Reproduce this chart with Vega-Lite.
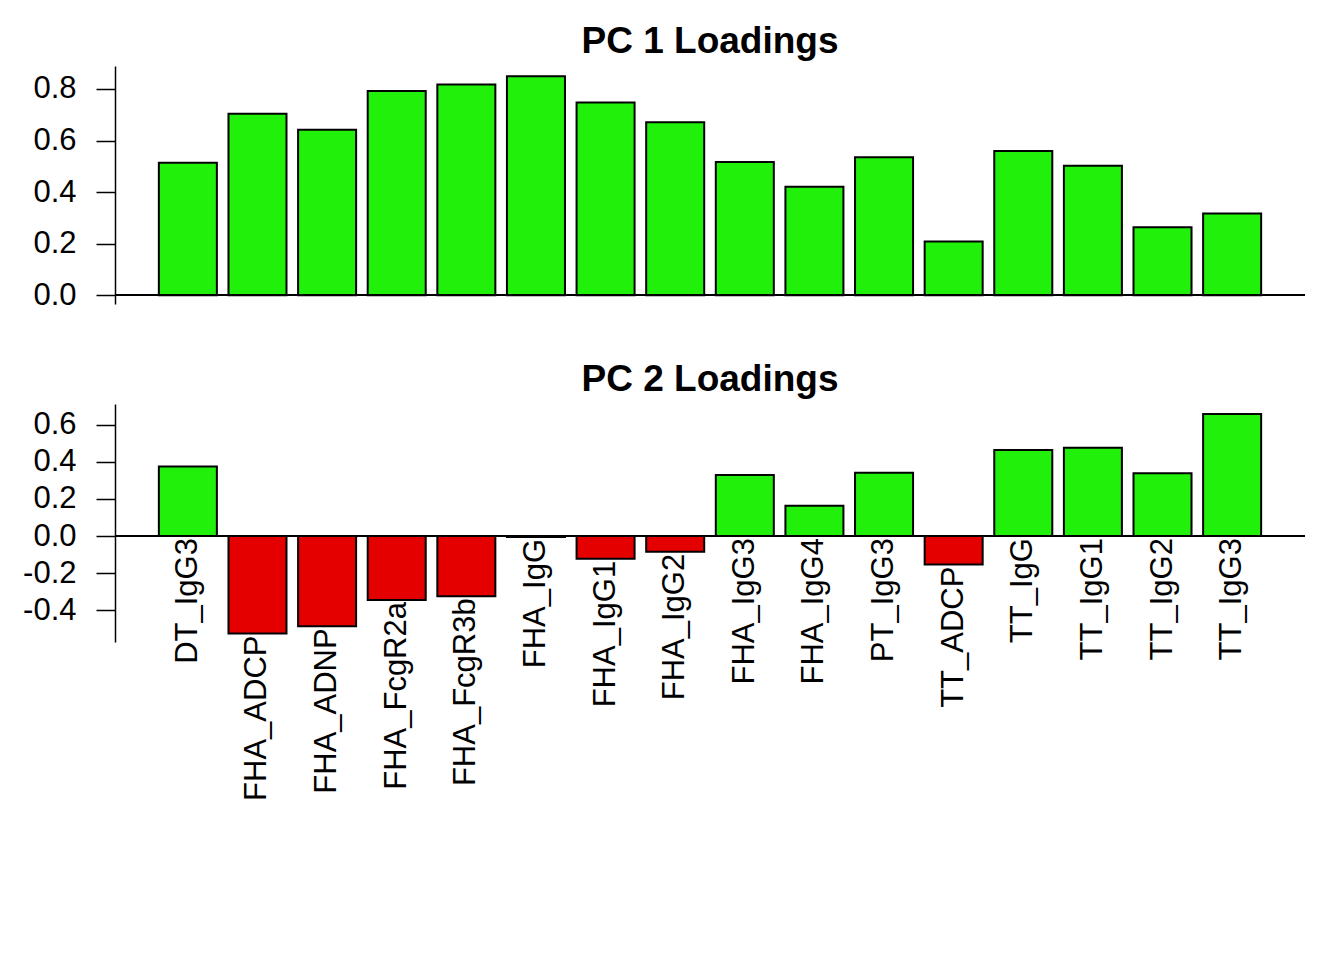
{
  "$schema": "https://vega.github.io/schema/vega-lite/v6.json",
  "padding": {"left": 22, "top": 23, "right": 5, "bottom": 5},
  "background": "white",
  "datasets": {
    "loadings": [
      {"pc": "PC1", "variable": "DT_IgG3", "loading": 0.514},
      {"pc": "PC1", "variable": "FHA_ADCP", "loading": 0.704},
      {"pc": "PC1", "variable": "FHA_ADNP", "loading": 0.642},
      {"pc": "PC1", "variable": "FHA_FcgR2a", "loading": 0.792},
      {"pc": "PC1", "variable": "FHA_FcgR3b", "loading": 0.817},
      {"pc": "PC1", "variable": "FHA_IgG", "loading": 0.849},
      {"pc": "PC1", "variable": "FHA_IgG1", "loading": 0.748},
      {"pc": "PC1", "variable": "FHA_IgG2", "loading": 0.671},
      {"pc": "PC1", "variable": "FHA_IgG3", "loading": 0.517},
      {"pc": "PC1", "variable": "FHA_IgG4", "loading": 0.421},
      {"pc": "PC1", "variable": "PT_IgG3", "loading": 0.535},
      {"pc": "PC1", "variable": "TT_ADCP", "loading": 0.208},
      {"pc": "PC1", "variable": "TT_IgG", "loading": 0.559},
      {"pc": "PC1", "variable": "TT_IgG1", "loading": 0.502},
      {"pc": "PC1", "variable": "TT_IgG2", "loading": 0.264},
      {"pc": "PC1", "variable": "TT_IgG3", "loading": 0.317},
      {"pc": "PC2", "variable": "DT_IgG3", "loading": 0.375},
      {"pc": "PC2", "variable": "FHA_ADCP", "loading": -0.526},
      {"pc": "PC2", "variable": "FHA_ADNP", "loading": -0.487},
      {"pc": "PC2", "variable": "FHA_FcgR2a", "loading": -0.345},
      {"pc": "PC2", "variable": "FHA_FcgR3b", "loading": -0.325},
      {"pc": "PC2", "variable": "FHA_IgG", "loading": -0.005},
      {"pc": "PC2", "variable": "FHA_IgG1", "loading": -0.123},
      {"pc": "PC2", "variable": "FHA_IgG2", "loading": -0.085},
      {"pc": "PC2", "variable": "FHA_IgG3", "loading": 0.330},
      {"pc": "PC2", "variable": "FHA_IgG4", "loading": 0.163},
      {"pc": "PC2", "variable": "PT_IgG3", "loading": 0.342},
      {"pc": "PC2", "variable": "TT_ADCP", "loading": -0.154},
      {"pc": "PC2", "variable": "TT_IgG", "loading": 0.464},
      {"pc": "PC2", "variable": "TT_IgG1", "loading": 0.476},
      {"pc": "PC2", "variable": "TT_IgG2", "loading": 0.339},
      {"pc": "PC2", "variable": "TT_IgG3", "loading": 0.659}
    ]
  },
  "data": {"name": "loadings"},
  "bounds": "flush",
  "spacing": 100,
  "vconcat": [
    {
      "width": 1190,
      "height": 238,
      "title": "PC 1 Loadings",
      "transform": [{"filter": "datum.pc === 'PC1'"}],
      "encoding": {
        "x": {
          "field": "variable",
          "type": "nominal",
          "sort": null,
          "axis": null,
          "scale": {"paddingInner": 0.1667, "paddingOuter": 0.63}
        },
        "y": {
          "field": "loading",
          "type": "quantitative",
          "scale": {"domain": [-0.0342, 0.8892], "nice": false, "zero": false},
          "axis": {"values": [0, 0.2, 0.4, 0.6, 0.8], "format": ".1f", "title": null}
        }
      },
      "layer": [
        {
          "mark": {"type": "bar", "stroke": "black", "strokeWidth": 2},
          "encoding": {
            "color": {
              "condition": {"test": "datum.loading >= 0", "value": "#21F00B"},
              "value": "#E50000"
            }
          }
        },
        {
          "mark": {"type": "rule", "color": "black", "strokeWidth": 1},
          "encoding": {"y": {"datum": 0}, "x": null}
        }
      ]
    },
    {
      "width": 1190,
      "height": 238,
      "title": "PC 2 Loadings",
      "transform": [{"filter": "datum.pc === 'PC2'"}],
      "encoding": {
        "x": {
          "field": "variable",
          "type": "nominal",
          "sort": null,
          "axis": null,
          "scale": {"paddingInner": 0.1667, "paddingOuter": 0.63}
        },
        "y": {
          "field": "loading",
          "type": "quantitative",
          "scale": {"domain": [-0.5716, 0.7126], "nice": false, "zero": false},
          "axis": {
            "values": [-0.4, -0.2, 0, 0.2, 0.4, 0.6],
            "labelExpr": "datum.value < 0 ? '-' + format(-datum.value, '.1f') : format(datum.value, '.1f')",
            "title": null
          }
        }
      },
      "layer": [
        {
          "mark": {"type": "bar", "stroke": "black", "strokeWidth": 2},
          "encoding": {
            "color": {
              "condition": {"test": "datum.loading >= 0", "value": "#21F00B"},
              "value": "#E50000"
            }
          }
        },
        {
          "mark": {"type": "rule", "color": "black", "strokeWidth": 1},
          "encoding": {"y": {"datum": 0}, "x": null}
        },
        {
          "transform": [{"filter": "datum.loading >= 0"}],
          "mark": {"type": "text", "angle": 270, "align": "right", "baseline": "middle", "fontSize": 31, "dx": -2, "color": "black"},
          "encoding": {"y": {"datum": 0}, "text": {"field": "variable"}}
        },
        {
          "transform": [{"filter": "datum.loading < 0"}],
          "mark": {"type": "text", "angle": 270, "align": "right", "baseline": "middle", "fontSize": 31, "dx": -2, "color": "black"},
          "encoding": {"text": {"field": "variable"}}
        }
      ]
    }
  ],
  "config": {
    "font": "Liberation Sans",
    "view": {"stroke": null},
    "axis": {
      "grid": false,
      "domainColor": "black",
      "domainWidth": 1.5,
      "tickColor": "black",
      "tickWidth": 1.5,
      "tickSize": 19,
      "labelPadding": 20,
      "labelColor": "black",
      "labelFont": "Liberation Sans",
      "labelFontSize": 31
    },
    "title": {
      "font": "Liberation Sans",
      "fontSize": 37,
      "fontWeight": "bold",
      "color": "black",
      "anchor": "middle",
      "baseline": "alphabetic",
      "offset": 5,
      "frame": "group"
    }
  }
}
